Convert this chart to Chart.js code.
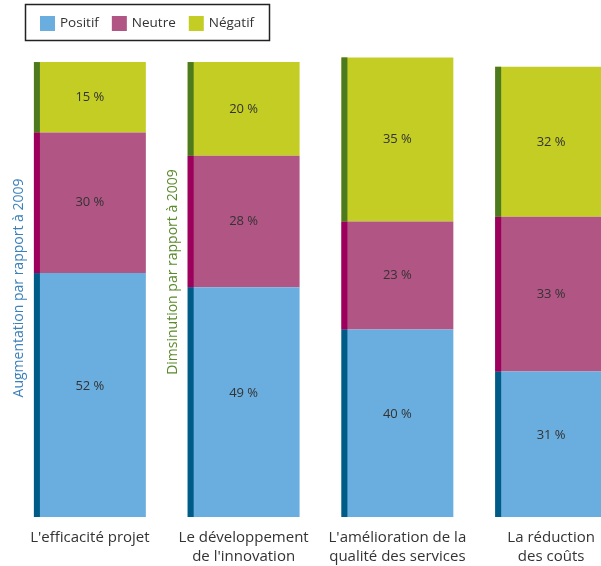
<!DOCTYPE html>
<html>
<head>
<meta charset="utf-8">
<script src="https://cdn.jsdelivr.net/npm/chart.js@4.4.0/dist/chart.umd.min.js"></script>
<style>
  html, body { margin: 0; padding: 0; background: #fff; overflow: hidden; }
  #wrap { width: 640px; height: 566px; }
</style>
</head>
<body>
<div id="wrap"><canvas id="chart" width="640" height="566"></canvas></div>
<script>
// chart data
const categories = [
  ["L'efficacité projet"],
  ["Le développement", "de l'innovation"],
  ["L'amélioration de la", "qualité des services"],
  ["La réduction", "des coûts"]
];
const positif = [52, 49, 40, 31];
const neutre = [30, 28, 23, 33];
const negatif = [15, 20, 35, 32];
const seriesNames = ['Positif', 'Neutre', 'Négatif'];
const sideNotes = ['Augmentation par rapport à 2009', 'Dimsinution par rapport à 2009'];

const fillColors = ['#6aaddf', '#b05584', '#c3cd23'];
const edgeColors = ['#005c87', '#9c005c', '#4d7a1e'];
const FONT = '"Open Sans", "DejaVu Sans", sans-serif';

// dark strip on the left of each bar segment + value text
const barDecor = {
  id: 'barDecor',
  afterDatasetsDraw(chart) {
    const ctx = chart.ctx;
    ctx.save();
    chart.data.datasets.forEach((ds, i) => {
      const meta = chart.getDatasetMeta(i);
      meta.data.forEach((bar, j) => {
        const left = bar.x - bar.width / 2;
        const top = Math.min(bar.y, bar.base);
        const h = Math.abs(bar.base - bar.y);
        ctx.fillStyle = edgeColors[i];
        ctx.fillRect(left, top, 6, h);
        ctx.fillStyle = '#333';
        ctx.font = '13px ' + FONT;
        ctx.textAlign = 'center';
        ctx.textBaseline = 'middle';
        // labels on the bottom segment sit a little above the middle
        const shift = i === 0 ? -9 : 0;
        ctx.fillText(ds.data[j] + ' %', bar.x, top + h / 2 + shift);
      });
    });
    ctx.restore();
  }
};

// rotated notes left of the first two bars
const sideText = {
  id: 'sideText',
  afterDraw(chart) {
    const ctx = chart.ctx;
    const meta = chart.getDatasetMeta(0);
    const spots = [
      { bar: meta.data[0], cy: 288, color: '#3a80ba' },
      { bar: meta.data[1], cy: 272, color: '#5b8a2c' }
    ];
    ctx.save();
    ctx.font = '14px ' + FONT;
    ctx.textAlign = 'center';
    ctx.textBaseline = 'middle';
    spots.forEach((s, k) => {
      const x = s.bar.x - s.bar.width / 2 - 15;
      ctx.save();
      ctx.translate(x, s.cy);
      ctx.rotate(-Math.PI / 2);
      ctx.fillStyle = s.color;
      ctx.fillText(sideNotes[k], 0, 0);
      ctx.restore();
    });
    ctx.restore();
  }
};

// boxed legend at top left
const boxLegend = {
  id: 'boxLegend',
  afterDraw(chart) {
    const ctx = chart.ctx;
    ctx.save();
    ctx.strokeStyle = '#222';
    ctx.lineWidth = 1.5;
    ctx.strokeRect(25.5, 4.5, 244, 36);
    ctx.font = '13.5px ' + FONT;
    ctx.textBaseline = 'middle';
    ctx.textAlign = 'left';
    let x = 40;
    chart.data.datasets.forEach((ds, i) => {
      ctx.fillStyle = fillColors[i];
      ctx.fillRect(x, 16, 15, 15);
      ctx.fillStyle = '#333';
      ctx.fillText(ds.label, x + 20, 23.5);
      x += 20 + ctx.measureText(ds.label).width + 13;
    });
    ctx.restore();
  }
};

new Chart(document.getElementById('chart'), {
  type: 'bar',
  data: {
    labels: categories,
    datasets: [
      { label: seriesNames[0], data: positif, backgroundColor: fillColors[0] },
      { label: seriesNames[1], data: neutre, backgroundColor: fillColors[1] },
      { label: seriesNames[2], data: negatif, backgroundColor: fillColors[2] }
    ]
  },
  options: {
    responsive: false,
    animation: false,
    layout: { padding: { left: 13, right: 12, top: 48, bottom: 0 } },
    datasets: { bar: { categoryPercentage: 1, barPercentage: 0.728, borderWidth: 0 } },
    plugins: { legend: { display: false }, tooltip: { enabled: false } },
    scales: {
      x: {
        stacked: true,
        grid: { display: false, drawTicks: false },
        border: { display: false },
        ticks: { padding: 12, color: '#333', font: { family: FONT, size: 15, lineHeight: 1.22 } },
        afterFit: s => { s.height = 49; }
      },
      y: { stacked: true, display: false, min: 0, max: 100 }
    }
  },
  plugins: [barDecor, sideText, boxLegend]
});
</script>
</body>
</html>
